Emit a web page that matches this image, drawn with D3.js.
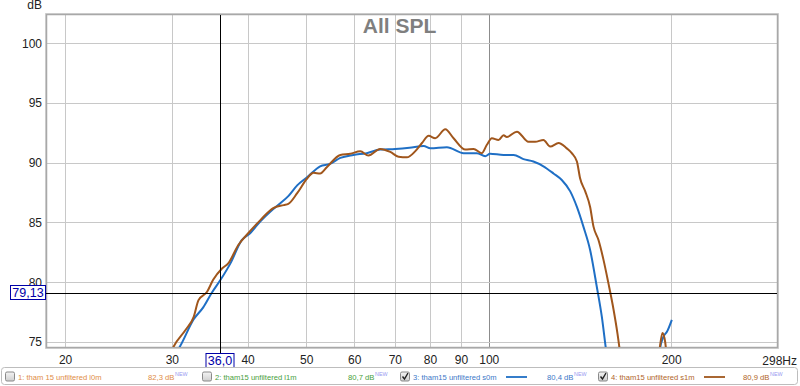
<!DOCTYPE html>
<html>
<head>
<meta charset="utf-8">
<script src="https://cdn.jsdelivr.net/npm/d3@7"></script>
<style>
  html, body { margin: 0; padding: 0; background: #fff; }
  svg { display: block; font-family: 'Liberation Sans', Arial, sans-serif; }
</style>
</head>
<body>
<svg id="chart" width="800" height="386"></svg>
<script>
// s0m (blue) measurement, frequency in Hz and level in dB
const s0mFreq = [29.5, 31.0, 32.6, 33.8, 34.9, 36.1, 37.5, 39.1, 40.4, 42.0, 43.6, 45.3, 46.7, 48.3, 50.2,
  52.7, 54.7, 56.9, 59.8, 62.9, 66.2, 70.1, 74.0, 78.1, 80.1, 85.3, 90.9, 95.6, 98.7, 100.5, 105.8, 109.9,
  114.1, 118.5, 123.1, 127.9, 132.0, 136.3, 139.8, 143.3, 147.0, 150.8, 153.7, 156.2, 158.0, 188.0, 192.5,
  194.5, 196.8, 200.5];
const s0mSpl = [73.0, 74.7, 76.9, 77.9, 79.1, 80.2, 81.6, 83.5, 84.1, 85.1, 85.9, 86.6, 87.2, 88.1, 88.8,
  89.7, 89.9, 90.4, 90.65, 90.8, 91.1, 91.15, 91.25, 91.4, 91.2, 91.3, 90.8, 90.8, 90.55, 90.75, 90.65, 90.65,
  90.3, 90.1, 89.7, 89.1, 88.55, 87.6, 86.3, 84.65, 82.7, 79.6, 77.1, 74.3, 72.5, 72.0, 74.9,
  75.5, 75.85, 76.85];

// s1m (brown) measurement
const s1mFreq = [29.5, 30.2, 31.6, 32.6, 33.2, 34.3, 35.1, 36.3, 37.2, 38.6, 40.1, 42.0, 44.1, 45.9, 46.7,
  48.3, 50.2, 51.4, 52.7, 54.1, 56.9, 59.1, 61.4, 63.3, 66.2, 68.8, 71.0, 73.3, 75.6, 77.6, 79.6, 81.6, 84.8,
  87.5, 91.5, 94.4, 97.4, 99.3, 101.2, 103.8, 105.8, 107.1, 111.3, 116.3, 119.3, 123.1, 126.3, 130.4, 134.5,
  137.1, 139.8, 141.5, 144.3, 147.0, 148.9, 151.7, 154.7, 157.6, 160.7, 163.1, 164.6, 166.0, 189.0, 191.3,
  193.5, 195.5, 197.0, 200.0];
const s1mSpl = [73.3, 74.6, 76.0, 77.1, 78.5, 79.2, 80.2, 81.15, 81.6, 83.1, 84.1, 85.2, 86.2, 86.45, 86.55,
  87.45, 88.7, 89.15, 89.1, 89.65, 90.65, 90.75, 90.95, 90.6, 91.15, 90.9, 90.5, 90.45, 90.95, 91.65, 92.25, 92.05, 92.8,
  92.05, 91.1, 91.15, 90.8, 91.5, 92.05, 91.9, 92.3, 92.15, 92.6, 91.75, 91.75, 91.9, 91.35, 91.65, 91.2,
  90.8, 90.1, 88.7, 87.6, 86.3, 84.65, 83.55, 81.85, 79.9, 77.7, 75.7, 74.2, 72.5, 72.0, 74.3,
  75.75, 75.0, 73.5, 72.0];

const freqTicks = [20, 30, 40, 50, 60, 70, 80, 90, 100, 200];
const splTicks = [75, 80, 85, 90, 95, 100];

const legendNames = ['1: tham 15 unfiltered l0m', '2: tham15 unfiltered l1m', '3: tham15 unfiltered s0m', '4: tham15 unfiltered s1m'];
const legendLevels = ['82,3 dB', '80,7 dB', '80,4 dB', '80,9 dB'];
const legendChecked = [false, false, true, true];

const cursorFreq = 36.0;
const cursorSpl = 79.13;

const PLOT = { left: 47, right: 777, top: 15, bottom: 347 };
const COLORS = {
  grid: '#c8c8c8',
  gridMajor: '#8c8c8c',
  blue: '#1f6fc5',
  brown: '#a0561c',
  cursor: '#0000a8',
  legendText: ['#e08c46', '#48a03c', '#3c78c8', '#b06428'],
};

const svg = d3.select('#chart');

const x = d3.scaleLog().domain([18.67, 299]).range([PLOT.left, PLOT.right]);
const y = d3.scaleLinear().domain([74.58, 102.36]).range([PLOT.bottom, PLOT.top]);

function drawGrid() {
  const g = svg.append('g');
  g.selectAll('line.v')
    .data(freqTicks)
    .join('line')
    .attr('x1', (d) => Math.round(x(d)) + 0.5).attr('x2', (d) => Math.round(x(d)) + 0.5)
    .attr('y1', PLOT.top).attr('y2', PLOT.bottom)
    .attr('stroke', (d) => d === 100 ? COLORS.gridMajor : COLORS.grid)
    .attr('stroke-width', 1);
  g.selectAll('line.h')
    .data(splTicks)
    .join('line')
    .attr('x1', PLOT.left).attr('x2', PLOT.right)
    .attr('y1', (d) => Math.round(y(d)) + 0.5).attr('y2', (d) => Math.round(y(d)) + 0.5)
    .attr('stroke', COLORS.grid)
    .attr('stroke-width', 1);
}

function drawAxes() {
  const xAxis = svg.append('g')
    .attr('transform', `translate(0,${PLOT.bottom})`)
    .call(d3.axisBottom(x).tickValues(freqTicks).tickFormat(d3.format('d')).tickSize(0).tickPadding(8));
  xAxis.select('.domain').remove();
  xAxis.selectAll('text').attr('font-size', '12px').attr('fill', '#222').attr('font-family', null);

  const yAxis = svg.append('g')
    .attr('transform', `translate(${PLOT.left},0)`)
    .call(d3.axisLeft(y).tickValues(splTicks).tickSize(0).tickPadding(5));
  yAxis.select('.domain').remove();
  yAxis.selectAll('text').attr('font-size', '12px').attr('fill', '#222').attr('font-family', null);

  svg.append('text')
    .attr('x', 797).attr('y', 364.5)
    .attr('text-anchor', 'end')
    .attr('font-size', '12px').attr('fill', '#222')
    .text('298Hz');

  svg.append('text')
    .attr('x', 42).attr('y', 9)
    .attr('text-anchor', 'end')
    .attr('font-size', '12px').attr('fill', '#222')
    .text('dB');
}

function drawFrame() {
  svg.append('rect')
    .attr('x', PLOT.left - 1.5).attr('y', PLOT.top - 1.5)
    .attr('width', PLOT.right - PLOT.left + 3).attr('height', PLOT.bottom - PLOT.top + 3)
    .attr('fill', 'none').attr('stroke', '#d6d6d6').attr('stroke-width', 1);
  svg.append('rect')
    .attr('x', PLOT.left - 0.5).attr('y', PLOT.top - 0.5)
    .attr('width', PLOT.right - PLOT.left + 1).attr('height', PLOT.bottom - PLOT.top + 1)
    .attr('fill', 'none').attr('stroke', '#a8a8a8').attr('stroke-width', 1.5);
}

function drawCurves() {
  svg.append('clipPath').attr('id', 'plot-clip')
    .append('rect')
    .attr('x', PLOT.left).attr('y', PLOT.top)
    .attr('width', PLOT.right - PLOT.left).attr('height', PLOT.bottom - PLOT.top);

  const line = d3.line()
    .x((d) => x(d[0]))
    .y((d) => y(d[1]))
    .curve(d3.curveMonotoneX);

  const series = [
    { freq: s0mFreq, spl: s0mSpl, color: COLORS.blue },
    { freq: s1mFreq, spl: s1mSpl, color: COLORS.brown },
  ];

  const g = svg.append('g').attr('clip-path', 'url(#plot-clip)');
  for (const s of series) {
    g.append('path')
      .datum(s.freq.map((f, i) => [f, s.spl[i]]))
      .attr('fill', 'none')
      .attr('stroke', s.color)
      .attr('stroke-width', 2)
      .attr('stroke-linejoin', 'round')
      .attr('d', line);
  }
}

function drawTitle() {
  svg.append('text')
    .attr('x', 399.5).attr('y', 33)
    .attr('text-anchor', 'middle')
    .attr('font-size', '21px').attr('font-weight', 'bold')
    .attr('fill', '#7f7f7f')
    .text('All SPL');
}

function drawCursor() {
  const cx = Math.round(x(cursorFreq)) + 0.5;
  const cy = Math.round(y(cursorSpl)) + 0.5;

  svg.append('line')
    .attr('x1', cx).attr('x2', cx)
    .attr('y1', PLOT.top).attr('y2', 353)
    .attr('stroke', '#000').attr('stroke-width', 1);
  svg.append('line')
    .attr('x1', PLOT.left - 1).attr('x2', PLOT.right)
    .attr('y1', cy).attr('y2', cy)
    .attr('stroke', '#000').attr('stroke-width', 1);

  const boxes = [
    { x: 10.5, y: 285.5, w: 35, h: 14, label: cursorSpl.toFixed(2).replace('.', ',') },
    { x: cx - 14.5, y: 353.5, w: 28, h: 14, label: cursorFreq.toFixed(1).replace('.', ',') },
  ];
  for (const b of boxes) {
    svg.append('rect')
      .attr('x', b.x).attr('y', b.y).attr('width', b.w).attr('height', b.h)
      .attr('fill', '#fff').attr('stroke', COLORS.cursor).attr('stroke-width', 1);
    svg.append('text')
      .attr('x', b.x + b.w / 2).attr('y', b.y + b.h - 2.5)
      .attr('text-anchor', 'middle')
      .attr('font-size', '12.5px').attr('fill', COLORS.cursor)
      .text(b.label);
  }
}

function drawCheckbox(g, bx, by, checked) {
  g.append('rect')
    .attr('x', bx + 0.5).attr('y', by + 0.5).attr('width', 9).attr('height', 9).attr('rx', 1.5)
    .attr('fill', 'url(#cb-grad)').attr('stroke', '#8a8a8a').attr('stroke-width', 1);
  if (checked) {
    g.append('path')
      .attr('d', `M${bx + 2.5},${by + 5} L${bx + 4.5},${by + 7.5} L${bx + 8},${by + 1.5}`)
      .attr('fill', 'none').attr('stroke', '#222').attr('stroke-width', 1.4);
  }
}

function drawLegend() {
  const defs = svg.append('defs');
  const grad = defs.append('linearGradient').attr('id', 'cb-grad')
    .attr('x1', 0).attr('y1', 0).attr('x2', 0).attr('y2', 1);
  grad.append('stop').attr('offset', '0%').attr('stop-color', '#f4f4f4');
  grad.append('stop').attr('offset', '100%').attr('stop-color', '#cfcfcf');

  const g = svg.append('g');
  g.append('rect')
    .attr('x', 1.5).attr('y', 367.5).attr('width', 796).attr('height', 17).attr('rx', 3)
    .attr('fill', '#fff').attr('stroke', '#bdbdbd');

  const itemX = [5, 202, 400, 598];
  const levelX = [148, 348, 547, 743];
  const sampleColors = [null, null, COLORS.blue, COLORS.brown];

  legendNames.forEach((name, i) => {
    const color = COLORS.legendText[i];
    drawCheckbox(g, itemX[i], 371.5, legendChecked[i]);
    g.append('text')
      .attr('x', itemX[i] + 13).attr('y', 379.5)
      .attr('font-size', '7.6px').attr('fill', color)
      .text(name);
    if (sampleColors[i]) {
      g.append('line')
        .attr('x1', itemX[i] + 106).attr('x2', itemX[i] + 127)
        .attr('y1', 377).attr('y2', 377)
        .attr('stroke', sampleColors[i]).attr('stroke-width', 1.8);
    }
    const lvl = g.append('text')
      .attr('x', levelX[i]).attr('y', 379.5)
      .attr('font-size', '7.7px').attr('fill', color);
    lvl.append('tspan').text(legendLevels[i]);
    lvl.append('tspan')
      .attr('dy', -3.5).attr('dx', 0.5)
      .attr('font-size', '5.4px').attr('fill', '#9a9af0')
      .text('NEW');
  });
}

drawGrid();
drawFrame();
drawAxes();
drawCurves();
drawTitle();
drawCursor();
drawLegend();
</script>
</body>
</html>
